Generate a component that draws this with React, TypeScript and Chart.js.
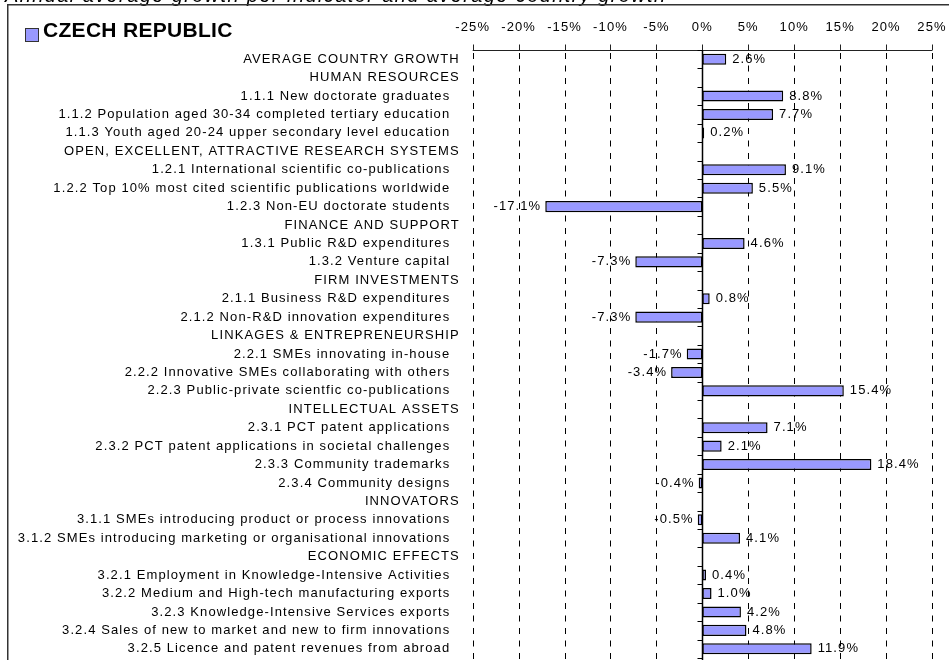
import { useEffect, useRef } from "react";
import { Chart, registerables } from "chart.js";

Chart.register(...registerables);

const chartTitle = "Annual average growth per indicator and average country growth";
const seriesLabel = "CZECH REPUBLIC";

const categories = [
  "AVERAGE COUNTRY GROWTH",
  "HUMAN RESOURCES",
  "1.1.1 New doctorate graduates",
  "1.1.2 Population aged 30-34 completed tertiary education",
  "1.1.3 Youth aged 20-24 upper secondary level education",
  "OPEN, EXCELLENT, ATTRACTIVE RESEARCH SYSTEMS",
  "1.2.1 International scientific co-publications",
  "1.2.2 Top 10% most cited scientific publications worldwide",
  "1.2.3 Non-EU doctorate students",
  "FINANCE AND SUPPORT",
  "1.3.1 Public R&D expenditures",
  "1.3.2 Venture capital",
  "FIRM INVESTMENTS",
  "2.1.1 Business R&D expenditures",
  "2.1.2 Non-R&D innovation expenditures",
  "LINKAGES & ENTREPRENEURSHIP",
  "2.2.1 SMEs innovating in-house",
  "2.2.2 Innovative SMEs collaborating with others",
  "2.2.3 Public-private scientfic co-publications",
  "INTELLECTUAL ASSETS",
  "2.3.1 PCT patent applications",
  "2.3.2 PCT patent applications in societal challenges",
  "2.3.3 Community trademarks",
  "2.3.4 Community designs",
  "INNOVATORS",
  "3.1.1 SMEs introducing product or process innovations",
  "3.1.2 SMEs introducing marketing or organisational innovations",
  "ECONOMIC EFFECTS",
  "3.2.1 Employment in Knowledge-Intensive Activities",
  "3.2.2 Medium and High-tech manufacturing exports",
  "3.2.3 Knowledge-Intensive Services exports",
  "3.2.4 Sales of new to market and new to firm innovations",
  "3.2.5 Licence and patent revenues from abroad",
];

const sectionHeaders = [
  "AVERAGE COUNTRY GROWTH",
  "HUMAN RESOURCES",
  "OPEN, EXCELLENT, ATTRACTIVE RESEARCH SYSTEMS",
  "FINANCE AND SUPPORT",
  "FIRM INVESTMENTS",
  "LINKAGES & ENTREPRENEURSHIP",
  "INTELLECTUAL ASSETS",
  "INNOVATORS",
  "ECONOMIC EFFECTS",
];

const growthValues: (number | null)[] = [
  2.6, null, 8.8, 7.7, 0.2, null, 9.1, 5.5, -17.1, null, 4.6, -7.3, null, 0.8, -7.3,
  null, -1.7, -3.4, 15.4, null, 7.1, 2.1, 18.4, -0.4, null, -0.5, 4.1, null, 0.4, 1.0,
  4.2, 4.8, 11.9,
];

const xTickValues = [-25, -20, -15, -10, -5, 0, 5, 10, 15, 20, 25];

const FONT = "'Liberation Sans', Arial, sans-serif";
const BAR_FILL = "#9999FF";

const decorPlugin = {
  id: "decor",
  beforeDraw(chart: any) {
    (chart.ctx as any).letterSpacing = "1.1px";
  },
  beforeDatasetsDraw(chart: any) {
    const { ctx, chartArea, scales } = chart;
    const xs = scales.x;
    const H = chart.height;
    ctx.save();
    ctx.strokeStyle = "#000";
    ctx.lineWidth = 1;
    ctx.setLineDash([6, 6.5]);
    for (const v of xTickValues) {
      if (v === 0) continue;
      const x = Math.round(xs.getPixelForValue(v)) + 0.5;
      ctx.beginPath();
      ctx.moveTo(x, chartArea.top + 3);
      ctx.lineTo(x, H);
      ctx.stroke();
    }
    ctx.setLineDash([]);
    const yA = chartArea.top + 0.5;
    ctx.strokeStyle = "#222";
    ctx.beginPath();
    ctx.moveTo(xs.getPixelForValue(-25), yA);
    ctx.lineTo(xs.getPixelForValue(25), yA);
    ctx.stroke();
    for (const v of xTickValues) {
      const x = Math.round(xs.getPixelForValue(v)) + 0.5;
      ctx.beginPath();
      ctx.moveTo(x, yA - 6);
      ctx.lineTo(x, yA);
      ctx.stroke();
    }
    const x0 = Math.round(xs.getPixelForValue(0)) + 0.5;
    ctx.strokeStyle = "#000";
    ctx.lineWidth = 1.5;
    ctx.beginPath();
    ctx.moveTo(x0, chartArea.top);
    ctx.lineTo(x0, H);
    ctx.stroke();
    ctx.lineWidth = 1;
    const n = categories.length;
    const band = (chartArea.bottom - chartArea.top) / n;
    for (let i = 0; i <= n; i++) {
      const y = Math.round(chartArea.top + i * band) + 0.5;
      ctx.beginPath();
      ctx.moveTo(x0 - 5, y);
      ctx.lineTo(x0, y);
      ctx.stroke();
    }
    ctx.restore();
  },
  afterDatasetsDraw(chart: any) {
    const { ctx } = chart;
    const meta = chart.getDatasetMeta(0);
    const data = chart.data.datasets[0].data;
    ctx.save();
    ctx.font = `13px ${FONT}`;
    ctx.fillStyle = "#000";
    ctx.textBaseline = "middle";
    meta.data.forEach((el: any, i: number) => {
      const v = data[i];
      if (v === null || v === undefined) return;
      const txt = `${v.toFixed(1)}%`;
      if (v >= 0) {
        ctx.textAlign = "left";
        ctx.fillText(txt, el.x + 6, el.y);
      } else {
        ctx.textAlign = "right";
        ctx.fillText(txt, el.x - 4, el.y);
      }
    });
    ctx.restore();
  },
  afterDraw(chart: any) {
    const { ctx } = chart;
    const W = chart.width;
    const H = chart.height;
    ctx.save();
    ctx.font = `italic 20px ${FONT}`;
    (ctx as any).letterSpacing = "1.4px";
    ctx.fillStyle = "#000";
    ctx.textAlign = "left";
    ctx.textBaseline = "alphabetic";
    ctx.fillText(chartTitle, 5, 2);
    ctx.strokeStyle = "#333";
    ctx.lineWidth = 1.5;
    ctx.beginPath();
    ctx.moveTo(W + 2, 4.75);
    ctx.lineTo(7.75, 4.75);
    ctx.lineTo(7.75, H + 2);
    ctx.stroke();
    ctx.fillStyle = BAR_FILL;
    ctx.fillRect(25.5, 28.5, 13, 13);
    ctx.strokeStyle = "#333";
    ctx.lineWidth = 1;
    ctx.strokeRect(25.5, 28.5, 13, 13);
    (ctx as any).letterSpacing = "0.3px";
    ctx.font = `bold 21px ${FONT}`;
    ctx.fillStyle = "#000";
    ctx.textBaseline = "middle";
    ctx.fillText(chart.data.datasets[0].label, 43, 31.5);
    ctx.restore();
  },
};

export default function App() {
  const ref = useRef<HTMLCanvasElement | null>(null);
  useEffect(() => {
    if (!ref.current) return;
    const chart = new Chart(ref.current, {
      type: "bar",
      data: {
        labels: categories,
        datasets: [
          {
            label: seriesLabel,
            data: growthValues as any,
            backgroundColor: BAR_FILL,
            borderColor: "#000",
            borderWidth: 1.5,
            borderSkipped: false,
            barPercentage: 0.6,
            categoryPercentage: 1,
          },
        ],
      },
      options: {
        indexAxis: "y",
        responsive: false,
        animation: false,
        layout: { padding: { top: 0, left: 0, right: 17, bottom: 2 } },
        plugins: { legend: { display: false }, tooltip: { enabled: false } },
        scales: {
          x: {
            type: "linear",
            position: "top",
            min: -25,
            max: 25,
            grid: { display: false, drawTicks: false },
            border: { display: false },
            ticks: {
              stepSize: 5,
              color: "#000",
              padding: 15,
              font: { family: FONT, size: 13 },
              callback: (v: any) => `${v}%`,
            },
            afterFit: (s: any) => {
              s.height = 50;
              s.paddingLeft = 0;
              s.paddingRight = 0;
            },
          },
          y: {
            type: "category",
            position: "left",
            grid: { display: false, drawTicks: false },
            border: { display: false },
            ticks: {
              autoSkip: false,
              color: "#000",
              padding: 13,
              font: { family: FONT, size: 13 },
              callback: (_v: any, i: number) => {
                const lab = categories[i];
                return sectionHeaders.includes(lab) ? lab : lab + "  ";
              },
            },
            afterFit: (s: any) => {
              s.width = 472.7;
              s.paddingTop = 0;
              s.paddingBottom = 0;
            },
          },
        },
      },
      plugins: [decorPlugin],
    });
    return () => chart.destroy();
  }, []);
  return (
    <div style={{ position: "fixed", left: 0, top: 0, width: 949, height: 660, background: "#fff" }}>
      <canvas ref={ref} width={949} height={660} style={{ display: "block" }} />
    </div>
  );
}
